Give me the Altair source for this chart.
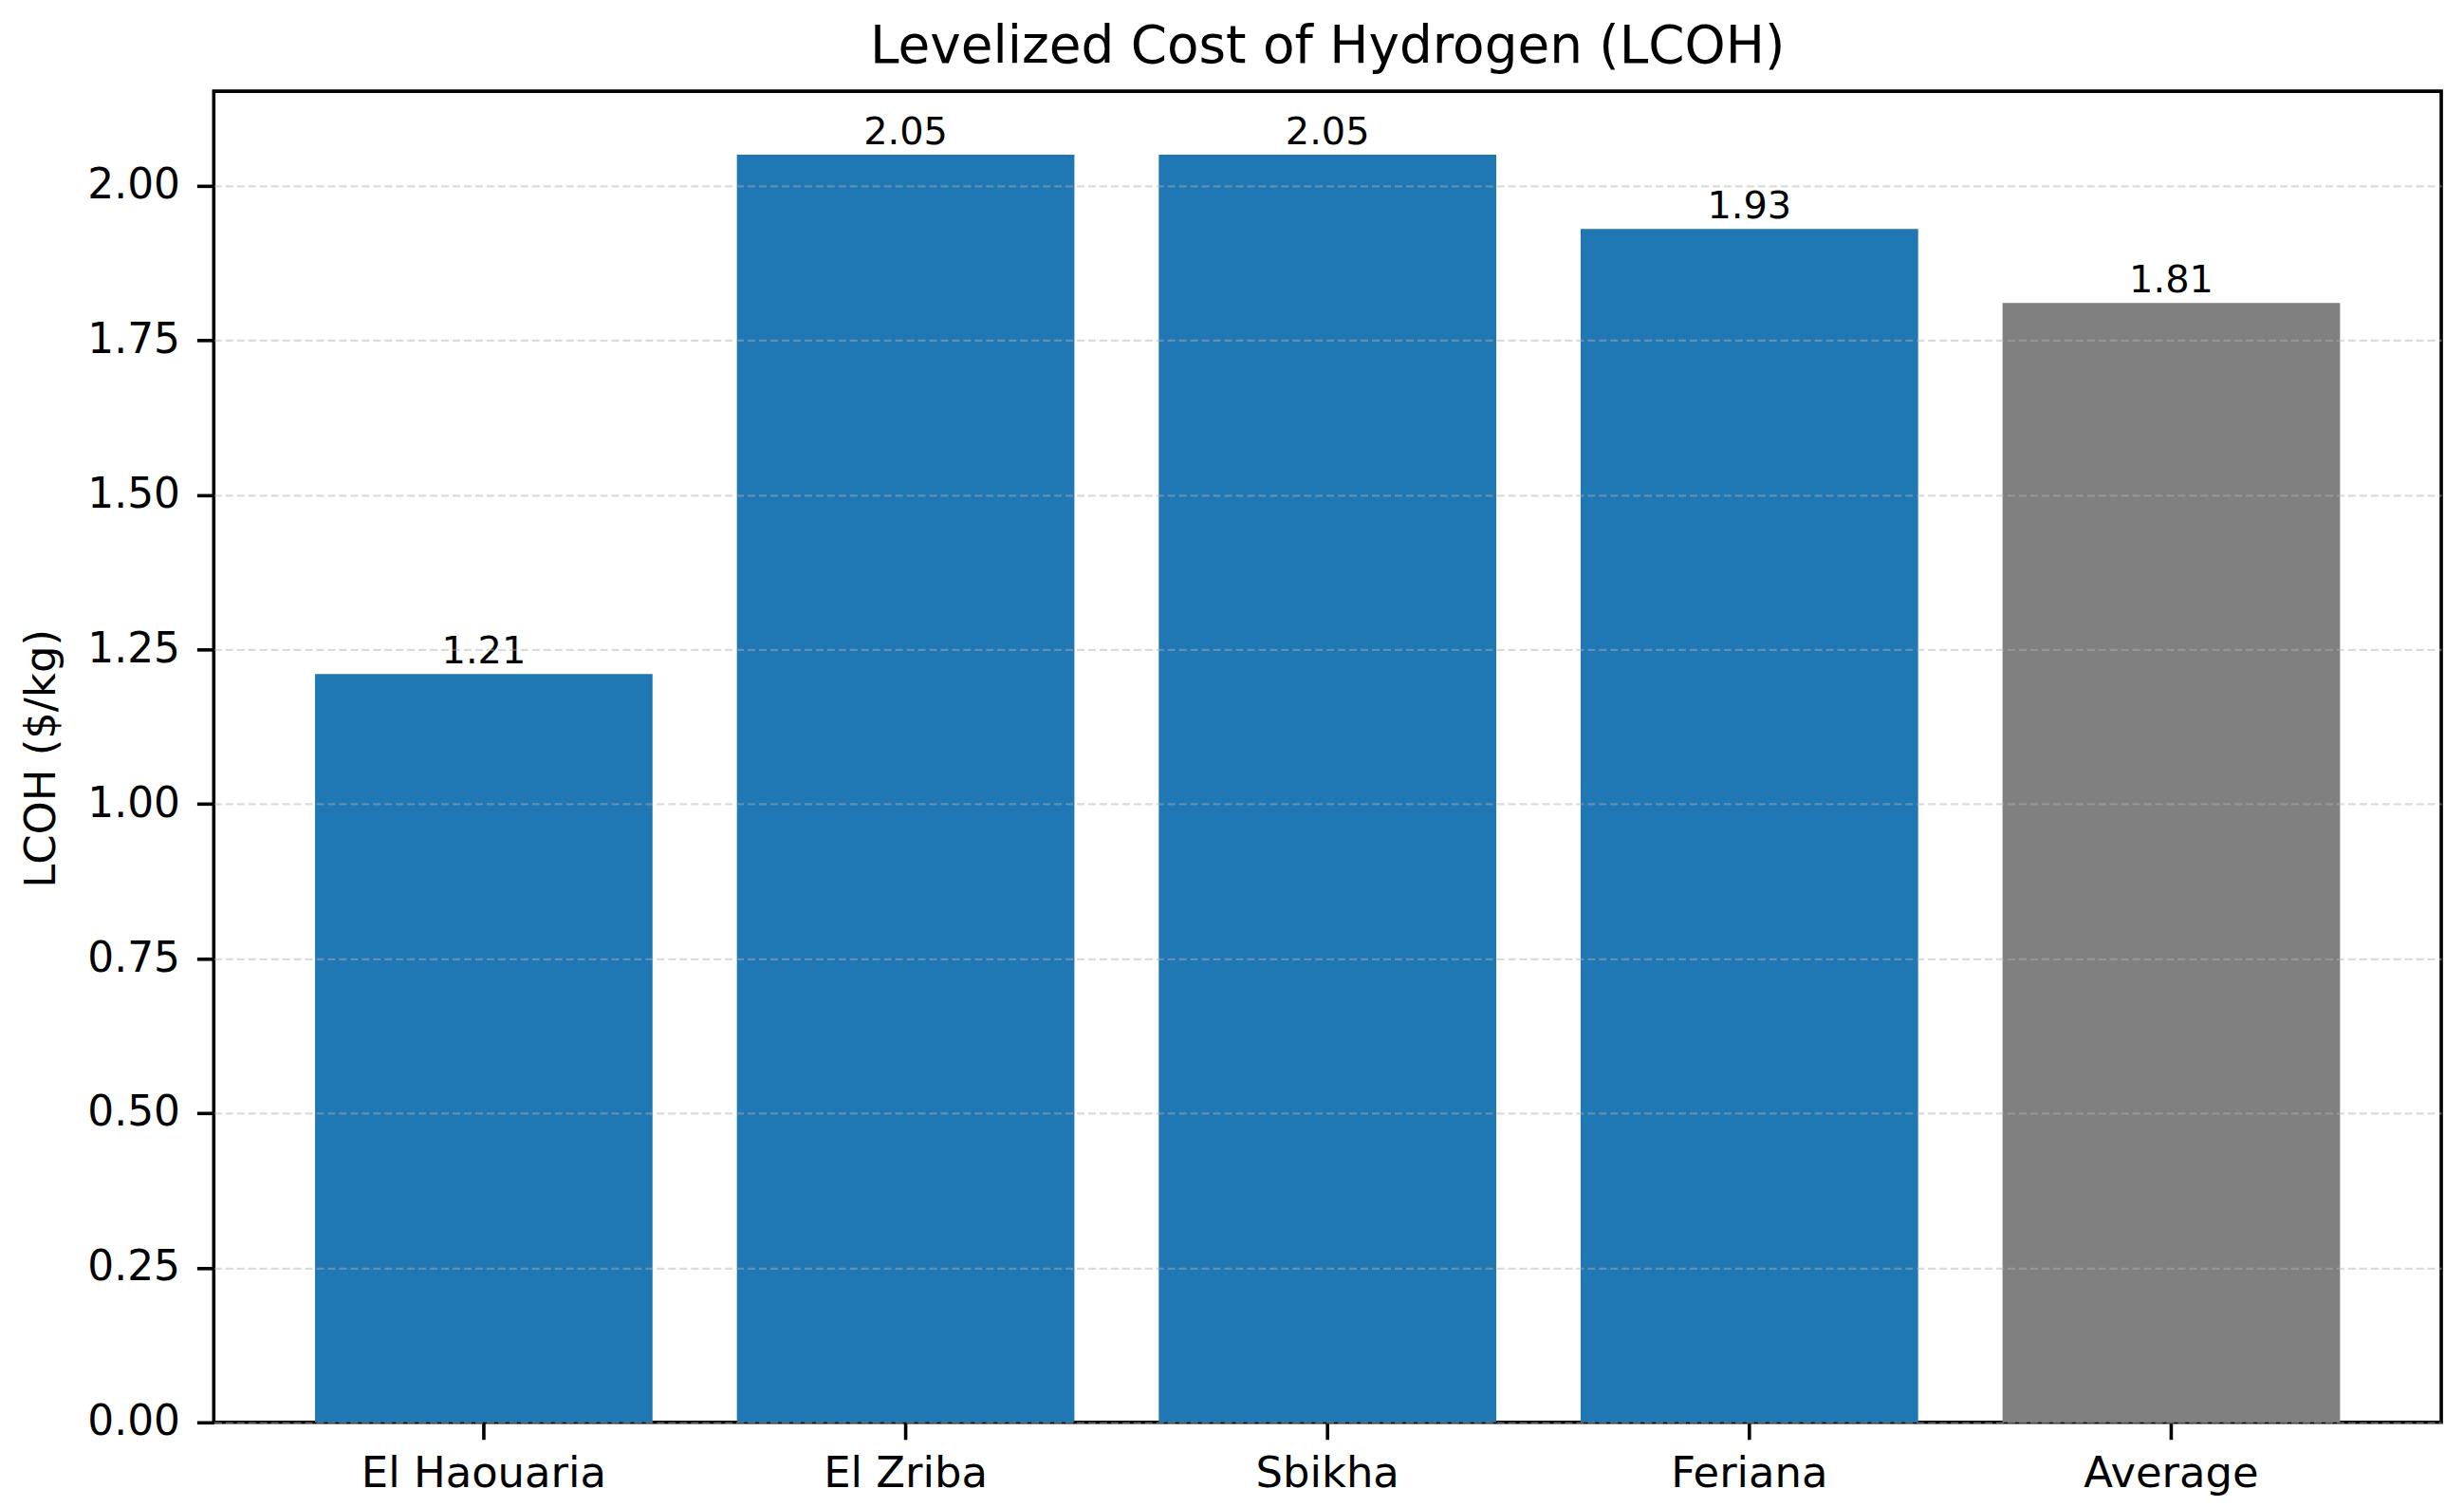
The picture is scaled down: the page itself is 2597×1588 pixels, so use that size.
import altair as alt
import pandas as pd

sites = ["El Haouaria", "El Zriba", "Sbikha", "Feriana", "Average"]
lcoh = [1.21, 2.05, 2.05, 1.93, 1.81]
kinds = ["site", "site", "site", "site", "average"]
y_ticks = [0.0, 0.25, 0.5, 0.75, 1.0, 1.25, 1.5, 1.75, 2.0]

df = pd.DataFrame({"site": sites, "lcoh": lcoh, "kind": kinds})

FONT = "DejaVu Sans"

x = alt.X(
    "site:N",
    sort=sites,
    title=None,
    scale=alt.Scale(paddingInner=0.2, paddingOuter=0.24),
    axis=alt.Axis(
        labelAngle=0,
        labelFont=FONT,
        labelFontSize=45,
        labelColor="black",
        labelLimit=0,
        labelPadding=14,
        tickSize=18,
        tickWidth=3.6,
        tickColor="black",
        domain=False,
        grid=False,
    ),
)

y = alt.Y(
    "lcoh:Q",
    scale=alt.Scale(domain=[0, 2.1525], nice=False, zero=True),
    axis=alt.Axis(
        title="LCOH ($/kg)",
        titleFont=FONT,
        titleFontSize=45,
        titleFontWeight="normal",
        titleColor="black",
        titleX=-182,
        titleY=705,
        titleBaseline="middle",
        titleAngle=270,
        values=y_ticks,
        format=".2f",
        labelFont=FONT,
        labelFontSize=44,
        labelColor="black",
        labelLimit=0,
        labelPadding=18,
        tickSize=18,
        tickWidth=3.6,
        tickColor="black",
        domain=False,
        grid=True,
        gridColor="#b0b0b0",
        gridOpacity=0.45,
        gridWidth=2.3,
        gridDash=[8, 4],
        zindex=1,
    ),
)

bars = alt.Chart(df).mark_bar().encode(
    x=x,
    y=y,
    color=alt.Color(
        "kind:N",
        scale=alt.Scale(domain=["site", "average"], range=["#1f77b4", "#808080"]),
        legend=None,
    ),
)

labels = alt.Chart(df).mark_text(
    font=FONT, fontSize=40, color="black", baseline="alphabetic", dy=-11
).encode(
    x=alt.X("site:N", sort=sites),
    y=alt.Y("lcoh:Q"),
    text=alt.Text("lcoh:Q", format=".2f"),
)

chart = (
    alt.layer(bars, labels)
    .properties(
        width=2355,
        height=1407,
        title=alt.TitleParams(
            text="Levelized Cost of Hydrogen (LCOH)",
            font=FONT,
            fontSize=55,
            fontWeight="normal",
            color="black",
            anchor="middle",
            offset=18,
        ),
        autosize=alt.AutoSizeParams(type="none"),
        padding={"left": 218, "top": 86, "right": 16, "bottom": 80},
    )
    .configure(background="white")
    .configure_view(stroke="black", strokeWidth=3.6)
)

chart.save("out.html", embed_options={"renderer": "svg", "actions": False})
